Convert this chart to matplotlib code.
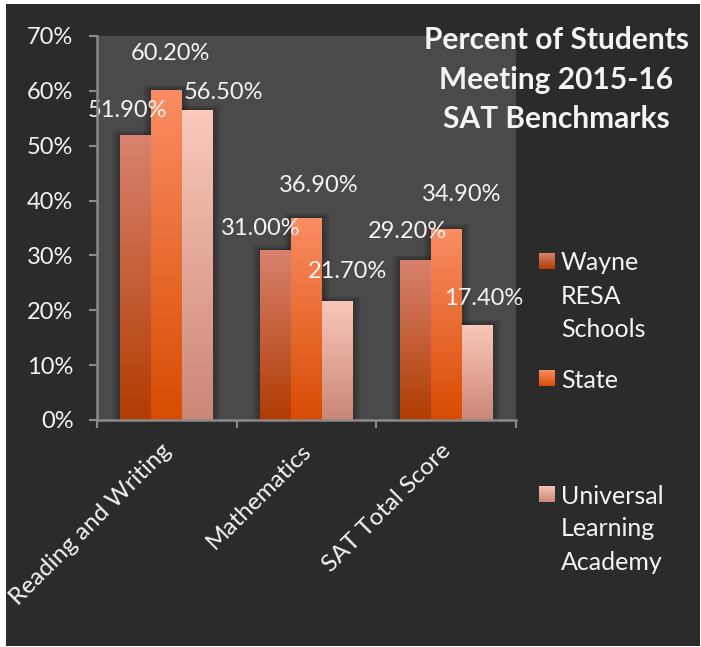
import numpy as np
import matplotlib
matplotlib.use("Agg")
import matplotlib.pyplot as plt
from matplotlib.patches import Rectangle
from matplotlib.colors import to_rgb
import matplotlib.transforms as mtransforms

# ---------------- data ----------------
categories = ["Reading and Writing", "Mathematics", "SAT Total Score"]
series_names = ["Wayne\nRESA\nSchools", "State", "Universal\nLearning\nAcademy"]
wayne = [51.9, 31.0, 29.2]
state = [60.2, 36.9, 34.9]
ula = [56.5, 21.7, 17.4]
values = [wayne, state, ula]
yticks = [0, 10, 20, 30, 40, 50, 60, 70]
ytick_labels = ["0%", "10%", "20%", "30%", "40%", "50%", "60%", "70%"]
title = "Percent of Students\nMeeting 2015-16\nSAT Benchmarks"

# ---------------- style ----------------
grad_top = ["#d8826e", "#fa8d64", "#f9c8ba"]
grad_bot = ["#b03c02", "#d84c02", "#cc8676"]
# data-label offsets in pixels (dx, dy) relative to bar top-center (layout only)
label_offsets = [
    [(-8, 25), (-15, 21), (-8, 28)],
    [(4, 36), (12, 32), (16, 34)],
    [(26, 18), (10, 29), (7, 26)],
]

FONT = "Lato"
TXT = "#f4f4f4"
BG = "#2b2b2b"
PLOT_BG = "#4a4a4a"
AX_COL = "#8a8a8a"

W, H = 701, 647
fig = plt.figure(figsize=(W / 100, H / 100), dpi=100, facecolor="white")

# dark chart background (white border around like the reference)
fig.patches.append(Rectangle((6 / W, 1 / H), (700 - 6) / W, (647 - 4 - 1) / H,
                             transform=fig.transFigure, facecolor=BG,
                             edgecolor="none", zorder=-10))

ax = fig.add_axes([97 / W, (H - 420) / H, (516 - 97) / W, 384 / H])
ax.set_facecolor(PLOT_BG)

x = np.arange(len(categories))
bw = 31 / 140
offsets = [-bw, 0, bw]

def gradient_img(top, bot, n=64):
    t = np.linspace(0, 1, n)[:, None]
    a = np.array(to_rgb(bot)); b = np.array(to_rgb(top))
    return (a[None, :] * (1 - t) + b[None, :] * t)[:, None, :]

px_x = 1 / 140.0
px_y = 70 / 384.0

for si, vals in enumerate(values):
    bars = ax.bar(x + offsets[si], vals, width=bw, color="none", zorder=3)
    for bi, p in enumerate(bars):
        bx, by = p.get_x(), p.get_y()
        w, h = p.get_width(), p.get_height()
        # soft shadow
        for k in range(1, 9):
            ax.add_patch(Rectangle((bx - k * px_x, by), w + 2 * k * px_x, h + k * px_y * 0.6,
                                   facecolor="black", alpha=0.035, edgecolor="none", zorder=1))
        im = ax.imshow(gradient_img(grad_top[si], grad_bot[si]), extent=[bx, bx + w, by, by + h],
                       origin="lower", aspect="auto", interpolation="bilinear", zorder=3)
        im.set_clip_path(p)
        dx, dy = label_offsets[si][bi]
        ax.annotate(f"{vals[bi]:.2f}%", xy=(bx + w / 2, by + h), xytext=(dx * 0.72, dy * 0.72),
                    textcoords="offset points", ha="center", va="center",
                    fontsize=17, color=TXT, family=FONT, zorder=5)

ax.set_xlim(-0.5, 2.5)
ax.set_ylim(0, 70)

for s in ["top", "right"]:
    ax.spines[s].set_visible(False)
for s in ["left", "bottom"]:
    ax.spines[s].set_color(AX_COL)
    ax.spines[s].set_linewidth(1.8)
    ax.spines[s].set_zorder(6)

ax.set_yticks(yticks)
ax.set_yticklabels(ytick_labels, fontsize=17, color=TXT, family=FONT)
ax.tick_params(axis="y", length=6, width=1.5, color=AX_COL, pad=11)

ax.set_xticks(x)
ax.set_xticklabels(categories, fontsize=17.5, color=TXT, family=FONT,
                   rotation=45, ha="right", va="center", rotation_mode="anchor")
ax.tick_params(axis="x", length=0, pad=20)
ax.set_xticks([-0.5, 0.5, 1.5, 2.5], minor=True)
ax.tick_params(axis="x", which="minor", length=6, width=1.5, color=AX_COL)
shift = mtransforms.ScaledTranslation(1 / 100, 0, fig.dpi_scale_trans)
for lbl in ax.get_xticklabels():
    lbl.set_transform(lbl.get_transform() + shift)

# title
fig.text(556 / W, 1 - 26 / H, title, ha="center", va="top", multialignment="center",
         fontsize=21.5, fontweight="bold", color=TXT, family=FONT, linespacing=1.5)

# legend (manual)
legend_y = [261, 378, 494]  # centre of first line (px from top)
for si, name in enumerate(series_names):
    cy = legend_y[si]
    sax = fig.add_axes([539 / W, 1 - (cy + 8) / H, 16 / W, 16 / H])
    sax.imshow(gradient_img(grad_top[si], grad_bot[si]), origin="lower", aspect="auto",
               extent=[0, 1, 0, 1], interpolation="bilinear")
    sax.axis("off")
    for li, line in enumerate(name.split("\n")):
        fig.text(561 / W, 1 - (cy + 33 * li) / H, line, ha="left", va="center_baseline",
                 fontsize=18, color=TXT, family=FONT)

fig.savefig("out.png", dpi=100, facecolor="white")
